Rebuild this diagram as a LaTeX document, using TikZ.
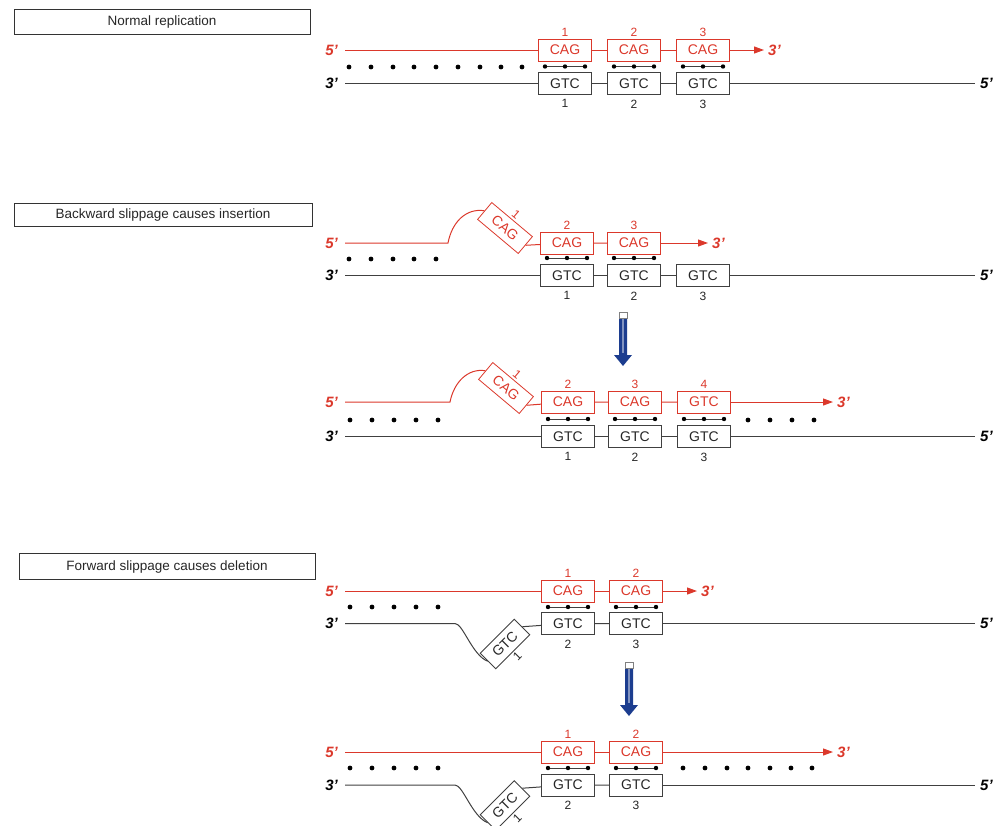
\documentclass[tikz,border=0pt]{standalone}
\usepackage{fontspec}
\setmainfont{Liberation Sans}
\usepackage{tikz}
\usetikzlibrary{shapes,arrows.meta}
\definecolor{dnared}{rgb}{0.86, 0.22, 0.17}
\definecolor{strandgray}{rgb}{0.25, 0.25, 0.25}
\definecolor{slipblue}{rgb}{0.11, 0.24, 0.56}
\tikzstyle{titlebox}=[draw=black!80,line width=0.8pt,minimum height=24pt,inner sep=0pt,text=black!85,text height=10pt,text depth=2pt,font=\fontsize{13.5}{13.5}\selectfont]
\tikzstyle{cag}=[draw=dnared,text=dnared,line width=0.8pt,minimum width=53pt,minimum height=22pt,inner sep=0pt,font=\fontsize{14}{14}\selectfont]
\tikzstyle{gtc}=[draw=strandgray,text=black!85,line width=0.9pt,minimum width=53pt,minimum height=22pt,inner sep=0pt,font=\fontsize{14}{14}\selectfont]
\tikzstyle{redend}=[text=dnared,inner sep=1pt,font=\fontsize{15}{15}\selectfont\bfseries\itshape]
\tikzstyle{blackend}=[text=black,inner sep=1pt,font=\fontsize{15}{15}\selectfont\bfseries\itshape]
\tikzstyle{rednum}=[text=dnared,inner sep=1.5pt,font=\fontsize{12}{12}\selectfont]
\tikzstyle{blacknum}=[text=black!85,inner sep=1.5pt,font=\fontsize{12}{12}\selectfont]
\tikzstyle{redstrand}=[draw=dnared,line width=1pt]
\tikzstyle{graystrand}=[draw=strandgray,line width=1pt]
\tikzstyle{growth}=[redstrand,-{Triangle[length=10pt,width=7pt]}]
\newcommand{\hdot}[2]{
  \fill (#1, #2) circle (2.4pt);
}
\newcommand{\hbonds}[2]{
  \draw[strandgray, line width=0.5pt] (#1-20, #2) -- (#1+20, #2);
  \fill (#1-20, #2) circle (2.2pt);
  \fill (#1, #2) circle (2.2pt);
  \fill (#1+20, #2) circle (2.2pt);
}
\newcommand{\sliparrow}[2]{
  \fill[slipblue] (#1-4, #2) -- (#1+4, #2) -- (#1+4, #2+40) -- (#1+9, #2+40)
    -- (#1, #2+51) -- (#1-9, #2+40) -- (#1-4, #2+40) -- cycle;
  \fill[slipblue!55] (#1-1.2, #2+4) rectangle (#1+1.2, #2+38);
  \draw[gray, fill=white, line width=0.6pt] (#1-4, #2-3) rectangle (#1+4, #2+3);
}

\begin{document}
\begin{tikzpicture}[x=1pt,y=-1pt]
\useasboundingbox (0,0) rectangle (1004,825);
% normal replication
\node[titlebox, minimum width=296pt, minimum height=25pt] (titleA) at (162,21.5) {Normal replication};
\node[redend, anchor=east] (fiveA) at (339,50) {5'};
\node[blackend, anchor=east] (threeA) at (339,83.5) {3'};
\node[cag, label={[rednum]above:1}] (cagA1) at (565,50) {CAG};
\node[cag, label={[rednum]above:2}] (cagA2) at (634,50) {CAG};
\node[cag, label={[rednum]above:3}] (cagA3) at (703,50) {CAG};
\node[gtc, label={[blacknum, label distance=3pt]below:1}] (gtcA1) at (565,83.5) {GTC};
\node[gtc, label={[blacknum, label distance=3pt]below:2}] (gtcA2) at (634,83.5) {GTC};
\node[gtc, label={[blacknum, label distance=3pt]below:3}] (gtcA3) at (703,83.5) {GTC};
\node[redend, anchor=west] (endA) at (767,50) {3'};
\node[blackend, anchor=west] (tailA) at (979,83.5) {5'};
\draw[redstrand, shorten <=6pt] (fiveA) -- (cagA1);
\draw[redstrand] (cagA1) -- (cagA2) -- (cagA3);
\draw[growth, shorten >=3pt] (cagA3) -- (endA);
\draw[graystrand, shorten <=6pt] (threeA) -- (gtcA1);
\draw[graystrand] (gtcA1) -- (gtcA2) -- (gtcA3);
\draw[graystrand, shorten >=4pt] (gtcA3) -- (tailA);
\hdot{349}{67} \hdot{371}{67} \hdot{393}{67} \hdot{414}{67} \hdot{436}{67}
\hdot{458}{67} \hdot{480}{67} \hdot{501}{67} \hdot{522}{67}
\hbonds{565}{66.5} \hbonds{634}{66.5} \hbonds{703}{66.5}

% backward slippage
\node[titlebox, minimum width=298pt, minimum height=23pt] (titleB) at (163,214.5) {Backward slippage causes insertion};
\node[redend, anchor=east] (fiveB) at (339,243) {5'};
\node[blackend, anchor=east] (threeB) at (339,275.5) {3'};
\node[cag, rotate=-40] (cagB1) at (505,228) {CAG};
\node[rednum, rotate=-40, anchor=south] (numB1) at (cagB1.north) {1};
\node[cag, label={[rednum]above:2}] (cagB2) at (567,243) {CAG};
\node[cag, label={[rednum]above:3}] (cagB3) at (634,243) {CAG};
\node[gtc, label={[blacknum, label distance=3pt]below:1}] (gtcB1) at (567,275.5) {GTC};
\node[gtc, label={[blacknum, label distance=3pt]below:2}] (gtcB2) at (634,275.5) {GTC};
\node[gtc, label={[blacknum, label distance=3pt]below:3}] (gtcB3) at (703,275.5) {GTC};
\node[redend, anchor=west] (endB) at (711,243) {3'};
\node[blackend, anchor=west] (tailB) at (979,275.5) {5'};
\coordinate (bendB) at (448,243);
\draw[redstrand, shorten <=6pt] (fiveB) -- (bendB) .. controls (452,222) and (466,208) .. (cagB1.west);
\draw[redstrand] (cagB1.east) -- (cagB2) -- (cagB3);
\draw[growth, shorten >=3pt] (cagB3) -- (endB);
\draw[graystrand, shorten <=6pt] (threeB) -- (gtcB1);
\draw[graystrand] (gtcB1) -- (gtcB2) -- (gtcB3);
\draw[graystrand, shorten >=4pt] (gtcB3) -- (tailB);
\hdot{349}{259} \hdot{371}{259} \hdot{393}{259} \hdot{414}{259} \hdot{436}{259}
\hbonds{567}{258} \hbonds{634}{258}

\sliparrow{623}{315}

% after insertion
\node[redend, anchor=east] (fiveC) at (339,402) {5'};
\node[blackend, anchor=east] (threeC) at (339,436.5) {3'};
\node[cag, rotate=-40] (cagC1) at (506,388) {CAG};
\node[rednum, rotate=-40, anchor=south] (numC1) at (cagC1.north) {1};
\node[cag, label={[rednum]above:2}] (cagC2) at (568,402) {CAG};
\node[cag, label={[rednum]above:3}] (cagC3) at (635,402) {CAG};
\node[cag, label={[rednum]above:4}] (cagC4) at (704,402) {GTC};
\node[gtc, label={[blacknum, label distance=3pt]below:1}] (gtcC1) at (568,436.5) {GTC};
\node[gtc, label={[blacknum, label distance=3pt]below:2}] (gtcC2) at (635,436.5) {GTC};
\node[gtc, label={[blacknum, label distance=3pt]below:3}] (gtcC3) at (704,436.5) {GTC};
\node[redend, anchor=west] (endC) at (836,402) {3'};
\node[blackend, anchor=west] (tailC) at (979,436.5) {5'};
\coordinate (bendC) at (450,402);
\draw[redstrand, shorten <=6pt] (fiveC) -- (bendC) .. controls (454,382) and (468,368) .. (cagC1.west);
\draw[redstrand] (cagC1.east) -- (cagC2) -- (cagC3) -- (cagC4);
\draw[growth, shorten >=3pt] (cagC4) -- (endC);
\draw[graystrand, shorten <=6pt] (threeC) -- (gtcC1);
\draw[graystrand] (gtcC1) -- (gtcC2) -- (gtcC3);
\draw[graystrand, shorten >=4pt] (gtcC3) -- (tailC);
\hdot{350}{420} \hdot{372}{420} \hdot{394}{420} \hdot{416}{420} \hdot{438}{420}
\hdot{748}{420} \hdot{770}{420} \hdot{792}{420} \hdot{814}{420}
\hbonds{568}{419} \hbonds{635}{419} \hbonds{704}{419}

% forward slippage
\node[titlebox, minimum width=296pt, minimum height=26pt] (titleD) at (167,566) {Forward slippage causes deletion};
\node[redend, anchor=east] (fiveD) at (339,591) {5'};
\node[blackend, anchor=east] (threeD) at (339,623.5) {3'};
\node[cag, label={[rednum]above:1}] (cagD1) at (568,591) {CAG};
\node[cag, label={[rednum]above:2}] (cagD2) at (636,591) {CAG};
\node[gtc, minimum width=48pt, rotate=45] (gtcD1) at (505,644) {GTC};
\node[blacknum, rotate=45, anchor=north] (numD1) at (gtcD1.south) {1};
\node[gtc, label={[blacknum, label distance=3pt]below:2}] (gtcD2) at (568,623.5) {GTC};
\node[gtc, label={[blacknum, label distance=3pt]below:3}] (gtcD3) at (636,623.5) {GTC};
\node[redend, anchor=west] (endD) at (700,591) {3'};
\node[blackend, anchor=west] (tailD) at (979,623.5) {5'};
\coordinate (bendD) at (455,623.5);
\draw[redstrand, shorten <=6pt] (fiveD) -- (cagD1);
\draw[redstrand] (cagD1) -- (cagD2);
\draw[growth, shorten >=3pt] (cagD2) -- (endD);
\draw[graystrand, shorten <=6pt] (threeD) -- (bendD) .. controls (463,623.5) and (472,655) .. (gtcD1.west);
\draw[graystrand] (gtcD1.east) -- (gtcD2) -- (gtcD3);
\draw[graystrand, shorten >=4pt] (gtcD3) -- (tailD);
\hdot{350}{607} \hdot{372}{607} \hdot{394}{607} \hdot{416}{607} \hdot{438}{607}
\hbonds{568}{607} \hbonds{636}{607}

\sliparrow{629}{665}

% after deletion
\node[redend, anchor=east] (fiveE) at (339,752) {5'};
\node[blackend, anchor=east] (threeE) at (339,785) {3'};
\node[cag, label={[rednum]above:1}] (cagE1) at (568,752) {CAG};
\node[cag, label={[rednum]above:2}] (cagE2) at (636,752) {CAG};
\node[gtc, minimum width=48pt, rotate=45] (gtcE1) at (505,805.5) {GTC};
\node[blacknum, rotate=45, anchor=north] (numE1) at (gtcE1.south) {1};
\node[gtc, label={[blacknum, label distance=3pt]below:2}] (gtcE2) at (568,785) {GTC};
\node[gtc, label={[blacknum, label distance=3pt]below:3}] (gtcE3) at (636,785) {GTC};
\node[redend, anchor=west] (endE) at (836,752) {3'};
\node[blackend, anchor=west] (tailE) at (979,785) {5'};
\coordinate (bendE) at (455,785);
\draw[redstrand, shorten <=6pt] (fiveE) -- (cagE1);
\draw[redstrand] (cagE1) -- (cagE2);
\draw[growth, shorten >=3pt] (cagE2) -- (endE);
\draw[graystrand, shorten <=6pt] (threeE) -- (bendE) .. controls (463,785) and (472,816.5) .. (gtcE1.west);
\draw[graystrand] (gtcE1.east) -- (gtcE2) -- (gtcE3);
\draw[graystrand, shorten >=4pt] (gtcE3) -- (tailE);
\hdot{350}{768} \hdot{372}{768} \hdot{394}{768} \hdot{416}{768} \hdot{438}{768}
\hdot{683}{768} \hdot{705}{768} \hdot{727}{768} \hdot{748}{768} \hdot{770}{768}
\hdot{791}{768} \hdot{812}{768}
\hbonds{568}{768} \hbonds{636}{768}
\end{tikzpicture}
\end{document}
